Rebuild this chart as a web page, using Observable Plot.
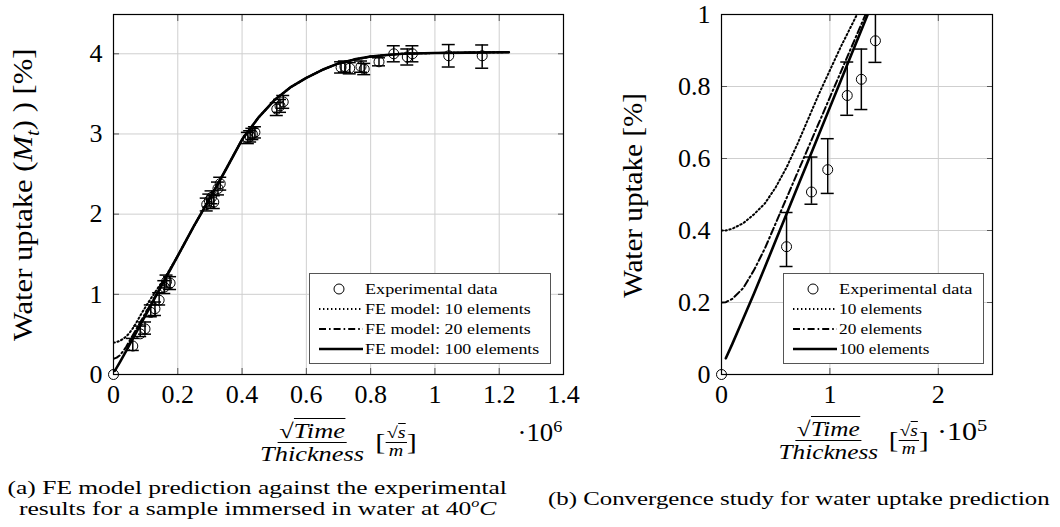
<!DOCTYPE html>
<html><head><meta charset="utf-8">
<script src="https://cdn.jsdelivr.net/npm/d3@7"></script>
<script src="https://cdn.jsdelivr.net/npm/@observablehq/plot@0.6"></script>
<style>
body{margin:0;background:#fff;}
#root{position:relative;width:1060px;height:527px;font-family:'Liberation Serif',serif;color:#000;overflow:hidden;background:#fff}
.abs{position:absolute;white-space:nowrap;line-height:1.1}
.tight{line-height:1}
.legend{border:1px solid #555;background:#fff}
.frac{display:flex;align-items:center;font-size:21px}
.f{display:inline-flex;flex-direction:column;align-items:center;font-style:italic;line-height:1.05}
.num{border-bottom:1px solid #000;padding:0 1px}
.ov{border-top:1px solid #000}
.small{font-size:16px}
.up{position:relative;line-height:0}
</style></head><body><div id="root"></div>
<script>
// ---- model curves (x in units of 1e6 sqrt(s)/m, y in %) ----
const curveX = [0, 0.004, 0.01, 0.02, 0.03, 0.04, 0.05, 0.06, 0.07, 0.08, 0.09, 0.10, 0.11, 0.12, 0.13, 0.14, 0.16, 0.2, 0.25, 0.3, 0.35, 0.4, 0.45, 0.5, 0.55, 0.6, 0.65, 0.7, 0.75, 0.8, 0.85, 0.9, 1.0, 1.1, 1.23];
const fe10  = [0.40, 0.40, 0.405, 0.42, 0.445, 0.475, 0.52, 0.575, 0.64, 0.71, 0.78, 0.845, 0.91, 0.97, 1.03, 1.09, 1.21, 1.48, 1.85, 2.2, 2.56, 2.93, 3.2, 3.42, 3.58, 3.7, 3.8, 3.88, 3.93, 3.965, 3.985, 4.0, 4.01, 4.015, 4.02];
const fe20  = [0.20, 0.201, 0.21, 0.24, 0.29, 0.35, 0.42, 0.49, 0.56, 0.63, 0.70, 0.77, 0.84, 0.91, 0.98, 1.05, 1.19, 1.48, 1.85, 2.2, 2.56, 2.93, 3.2, 3.42, 3.58, 3.7, 3.8, 3.88, 3.93, 3.965, 3.985, 4.0, 4.01, 4.015, 4.02];
const fe100 = [null, 0.045, 0.085, 0.155, 0.225, 0.298, 0.372, 0.446, 0.52, 0.594, 0.668, 0.742, 0.816, 0.89, 0.964, 1.038, 1.185, 1.48, 1.85, 2.2, 2.56, 2.93, 3.2, 3.42, 3.58, 3.7, 3.8, 3.88, 3.93, 3.965, 3.985, 4.0, 4.01, 4.015, 4.02];

// ---- experimental data ----
const expX  = [0, 0.060, 0.083, 0.098, 0.116, 0.129, 0.142, 0.158, 0.165, 0.176, 0.290, 0.298, 0.305, 0.312, 0.325, 0.332, 0.418, 0.425, 0.432, 0.440, 0.508, 0.518, 0.528, 0.708, 0.720, 0.735, 0.770, 0.780, 0.826, 0.872, 0.914, 0.930, 1.043, 1.147];
const expY  = [0, 0.355, 0.507, 0.569, 0.775, 0.82, 0.927, 1.09, 1.16, 1.14, 2.12, 2.17, 2.21, 2.15, 2.32, 2.38, 2.95, 2.97, 3.0, 3.02, 3.31, 3.35, 3.40, 3.83, 3.84, 3.82, 3.84, 3.81, 3.90, 4.0, 3.96, 4.0, 3.975, 3.975];
const expLo = [0, 0.30, 0.473, 0.503, 0.72, 0.736, 0.867, 1.01, 1.08, 1.06, 2.04, 2.09, 2.13, 2.07, 2.24, 2.30, 2.88, 2.90, 2.93, 2.95, 3.23, 3.27, 3.32, 3.76, 3.77, 3.75, 3.77, 3.74, 3.85, 3.90, 3.86, 3.90, 3.835, 3.82];
const expHi = [0, 0.45, 0.604, 0.655, 0.868, 0.904, 1.02, 1.17, 1.24, 1.22, 2.20, 2.25, 2.29, 2.23, 2.40, 2.46, 3.02, 3.04, 3.07, 3.09, 3.39, 3.43, 3.48, 3.90, 3.91, 3.89, 3.91, 3.88, 3.95, 4.10, 4.06, 4.10, 4.115, 4.11];

// ---- ticks ----
const xTicksA = [0, 0.2, 0.4, 0.6, 0.8, 1, 1.2, 1.4];
const yTicksA = [0, 1, 2, 3, 4];
const xTicksB = [0, 1, 2];
const yTicksB = [0, 0.2, 0.4, 0.6, 0.8, 1];

const seriesNames = ["10", "20", "100"];
const fmt = d => String(+d.toFixed(2));

const curves = [];
curveX.forEach((x, i) => {
  curves.push({x, y: fe10[i], s: "10"});
  curves.push({x, y: fe20[i], s: "20"});
  if (fe100[i] != null) curves.push({x, y: fe100[i], s: "100"});
});
const exp = expX.map((x, i) => ({x, y: expY[i], lo: expLo[i], hi: expHi[i]}));

const styles = {
  "10":  {strokeWidth: 2, strokeDasharray: "1.4 2.6"},
  "20":  {strokeWidth: 2, strokeDasharray: "7 3 1.6 3"},
  "100": {strokeWidth: 2.6, strokeDasharray: null}
};

function chart({xs, ticksX, ticksY, domainX, domainY, width, height, ml, mr, mt, mb, restrict}) {
  const curveMarks = seriesNames.map(s => Plot.line(curves.filter(d => d.s === s), {
    x: d => d.x * xs, y: "y", stroke: "#000", clip: true, ...styles[s]
  }));
  const inView = d => d.x * xs <= domainX[1] && d.y <= domainY[1];
  const ebar = exp.filter(d => d.hi > d.lo);
  return Plot.plot({
    width, height, marginLeft: ml, marginRight: mr, marginTop: mt, marginBottom: mb,
    style: {fontFamily: "'Liberation Serif', serif", fontSize: "26px", background: "transparent", color: "#000", overflow: "visible"},
    x: {domain: domainX}, y: {domain: domainY},
    marks: [
      Plot.gridX(ticksX, {stroke: "#cfcfcf", strokeOpacity: 1, strokeWidth: 1}),
      Plot.gridY(ticksY, {stroke: "#cfcfcf", strokeOpacity: 1, strokeWidth: 1}),
      Plot.axisX({ticks: ticksX, tickSize: -6, tickPadding: 16, tickFormat: fmt, label: null, stroke: "#555"}),
      Plot.axisX({anchor: "top", ticks: ticksX, tickSize: -6, tickFormat: () => "", label: null, stroke: "#555"}),
      Plot.axisY({ticks: ticksY, tickSize: -6, tickPadding: 17, tickFormat: fmt, label: null, stroke: "#555"}),
      Plot.axisY({anchor: "right", ticks: ticksY, tickSize: -6, tickFormat: () => "", label: null, stroke: "#555"}),
      ...curveMarks,
      Plot.ruleX(ebar, {x: d => d.x * xs, y1: "lo", y2: "hi", stroke: "#000", strokeWidth: 1.5, clip: true}),
      Plot.ruleY(ebar, {y: "lo", x1: d => d.x * xs, x2: d => d.x * xs, insetLeft: -6.5, insetRight: -6.5, stroke: "#000", strokeWidth: 1.5, clip: true}),
      Plot.ruleY(ebar, {y: "hi", x1: d => d.x * xs, x2: d => d.x * xs, insetLeft: -6.5, insetRight: -6.5, stroke: "#000", strokeWidth: 1.5, clip: true}),
      Plot.dot(restrict ? exp.filter(inView) : exp, {x: d => d.x * xs, y: "y", r: 5, stroke: "#000", strokeWidth: 1, fill: "none"}),
      Plot.frame({stroke: "#000", strokeWidth: 1.2})
    ]
  });
}

const root = document.getElementById("root");

const A = chart({xs: 1, ticksX: xTicksA, ticksY: yTicksA, domainX: [0, 1.4], domainY: [0, 4.49],
  width: 600, height: 430, ml: 113, mr: 37, mt: 14, mb: 56, restrict: false});
A.style.position = "absolute"; A.style.left = "0px"; A.style.top = "0px";
root.appendChild(A);

const B = chart({xs: 10, ticksX: xTicksB, ticksY: yTicksB, domainX: [0, 2.5], domainY: [0, 1],
  width: 420, height: 430, ml: 101, mr: 48, mt: 14, mb: 56, restrict: true});
B.style.position = "absolute"; B.style.left = "620px"; B.style.top = "0px";
root.appendChild(B);

function add(html, parent = root) { const t = document.createElement("template"); t.innerHTML = html.trim(); const n = t.content.firstChild; parent.appendChild(n); return n; }

// place a text element so that its centre is at (cx, cy) and its length is w (scaled horizontally to fit)
function place(html, {cx, cy, w, size, rotate = 0, cls = ""}) {
  const el = add(`<div class="abs ${cls}" style="font-size:${size}px">${html}</div>`);
  const nw = el.offsetWidth, nh = el.offsetHeight;
  el.style.left = (cx - nw / 2) + "px";
  el.style.top = (cy - nh / 2) + "px";
  el.style.transformOrigin = "50% 50%";
  el.style.transform = `${rotate ? `rotate(${rotate}deg) ` : ""}scaleX(${w / nw})`;
  return el;
}
// left-aligned text inside a parent, starting at x, vertically centred at cy, length w
function placeLeft(parent, html, {x, cy, w, size}) {
  const el = add(`<div class="abs" style="font-size:${size}px">${html}</div>`, parent);
  const nw = el.offsetWidth, nh = el.offsetHeight;
  el.style.left = x + "px"; el.style.top = (cy - nh / 2) + "px";
  el.style.transformOrigin = "0 50%";
  el.style.transform = `scaleX(${w / nw})`;
}

// y labels
place(`Water uptake (<i>M</i><sub style="font-size:19px;font-style:italic">t</sub>) ) [%]`, {cx: 25, cy: 194, w: 292, size: 28, rotate: -90});
place(`Water uptake [%]`, {cx: 633, cy: 195, w: 205, size: 28, rotate: -90});

// legends
function lineSample(s) {
  const st = styles[s];
  return `<svg width="44" height="8" style="display:block"><line x1="0" x2="44" y1="4" y2="4" stroke="#000" stroke-width="${st.strokeWidth}" ${st.strokeDasharray ? `stroke-dasharray="${st.strokeDasharray}"` : ""}/></svg>`;
}
function legend(left, width, labels, widths) {
  const box = add(`<div class="abs legend" style="left:${left}px;top:273px;width:${width}px;height:89px"></div>`);
  add(`<svg style="position:absolute;left:${29 - 6}px;top:${15 - 6}px" width="12" height="12"><circle cx="6" cy="6" r="5" fill="none" stroke="#000"/></svg>`, box);
  seriesNames.forEach((s, i) => add(`<div style="position:absolute;left:9px;top:${35 - 4 + i * 20}px">${lineSample(s)}</div>`, box));
  labels.forEach((lab, i) => placeLeft(box, lab, {x: 55, cy: 15 + i * 20, w: widths[i], size: 15}));
}
legend(309, 240, ["Experimental data", "FE model: 10 elements", "FE model: 20 elements", "FE model: 100 elements"], [133, 166, 166, 174]);
legend(783, 199, ["Experimental data", "10 elements", "20 elements", "100 elements"], [134, 83, 83, 91]);

// x labels
const fracHTML = `<span class="f"><span class="num">√<span class="ov">Time</span></span><span>Thickness</span></span>
  <span style="font-size:24px;margin-left:9px">[</span><span class="f small"><span class="num">√<span class="ov">s</span></span><span>m</span></span><span style="font-size:24px">]</span>`;
place(fracHTML, {cx: 338, cy: 442, w: 157, size: 21, cls: "frac"});
place(`·10<sup style="font-size:17px">6</sup>`, {cx: 540, cy: 432, w: 45, size: 25});
place(`${fracHTML}<span style="font-size:25px;margin-left:7px;position:relative;top:-9px">·10<sup style="font-size:17px">5</sup></span>`, {cx: 883, cy: 440, w: 209, size: 21, cls: "frac"});

// captions
place(`(a) FE model prediction against the experimental`, {cx: 257, cy: 487, w: 500, size: 19, cls: "tight"});
place(`results for a sample immersed in water at 40<span class="up" style="font-size:12px;top:-8px"><i>o</i></span><i>C</i>`, {cx: 257, cy: 508, w: 477, size: 19, cls: "tight"});
place(`(b) Convergence study for water uptake prediction`, {cx: 799, cy: 498, w: 502, size: 19, cls: "tight"});
</script></body></html>
